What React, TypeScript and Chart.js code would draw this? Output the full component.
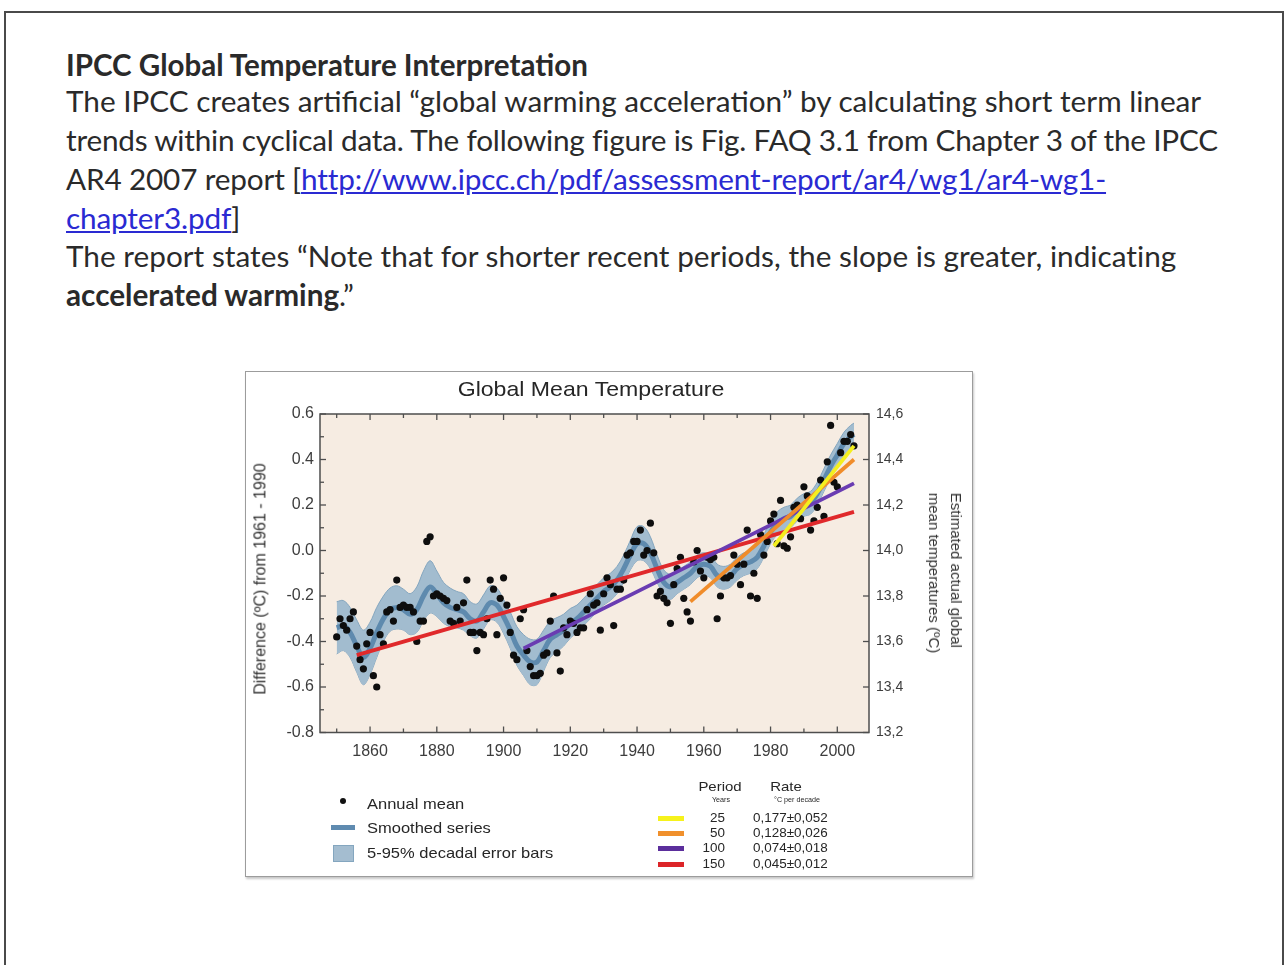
import React, { useEffect, useLayoutEffect, useRef, useState } from 'react';
import { Chart, registerables } from 'chart.js';

Chart.register(...registerables);

// ---------------- data ----------------
const FIRST_YEAR = 1850;
// annual global mean anomalies (°C, vs 1961-1990), 1850..2005
const annualMean = [
  -0.38, -0.30, -0.33, -0.35, -0.30, -0.27, -0.42, -0.48, -0.52, -0.41,
  -0.36, -0.55, -0.60, -0.37, -0.41, -0.27, -0.26, -0.31, -0.13, -0.25,
  -0.24, -0.25, -0.25, -0.27, -0.40, -0.31, -0.31, 0.04, 0.06, -0.20,
  -0.19, -0.20, -0.21, -0.22, -0.31, -0.32, -0.25, -0.31, -0.23, -0.13,
  -0.36, -0.36, -0.44, -0.36, -0.37, -0.30, -0.13, -0.17, -0.37, -0.21,
  -0.12, -0.24, -0.36, -0.46, -0.48, -0.30, -0.26, -0.44, -0.51, -0.55,
  -0.55, -0.54, -0.46, -0.45, -0.31, -0.20, -0.45, -0.53, -0.34, -0.37,
  -0.31, -0.32, -0.36, -0.34, -0.34, -0.26, -0.19, -0.24, -0.23, -0.35,
  -0.19, -0.12, -0.15, -0.33, -0.17, -0.17, -0.13, -0.02, -0.01, 0.04,
  0.04, 0.09, -0.02, 0.00, 0.12, -0.01, -0.20, -0.18, -0.21, -0.23,
  -0.32, -0.15, -0.08, -0.03, -0.21, -0.27, -0.31, -0.05, 0.00, -0.09,
  -0.12, -0.03, -0.04, -0.03, -0.30, -0.20, -0.12, -0.12, -0.11, -0.02,
  -0.06, -0.15, -0.06, 0.09, -0.20, -0.10, -0.21, 0.07, -0.02, 0.04,
  0.13, 0.16, 0.03, 0.22, 0.02, 0.01, 0.06, 0.19, 0.20, 0.14,
  0.28, 0.24, 0.09, 0.13, 0.19, 0.31, 0.15, 0.39, 0.55, 0.30,
  0.28, 0.43, 0.48, 0.48, 0.51, 0.46,
];

const smoothYears = [
  1850, 1852, 1854, 1856, 1858, 1860, 1862, 1864, 1866, 1868,
  1870, 1872, 1874, 1876, 1878, 1880, 1882, 1884, 1886, 1888,
  1890, 1892, 1894, 1896, 1898, 1900, 1902, 1904, 1906, 1908,
  1910, 1912, 1914, 1916, 1918, 1920, 1922, 1924, 1926, 1928,
  1930, 1932, 1934, 1936, 1938, 1940, 1942, 1944, 1946, 1948,
  1950, 1952, 1954, 1956, 1958, 1960, 1962, 1964, 1966, 1968,
  1970, 1972, 1974, 1976, 1978, 1980, 1982, 1984, 1986, 1988,
  1990, 1992, 1994, 1996, 1998, 2000, 2002, 2004, 2005,
];
const smoothValues = [
  -0.34, -0.33, -0.36, -0.42, -0.47, -0.43, -0.36, -0.30, -0.26, -0.25,
  -0.26, -0.28, -0.26, -0.20, -0.16, -0.19, -0.23, -0.25, -0.26, -0.27,
  -0.30, -0.31, -0.27, -0.23, -0.24, -0.29, -0.35, -0.42, -0.46, -0.49,
  -0.49, -0.44, -0.39, -0.37, -0.35, -0.32, -0.30, -0.27, -0.24, -0.21,
  -0.18, -0.16, -0.13, -0.08, -0.02, 0.03, 0.03, -0.01, -0.08, -0.14,
  -0.16, -0.14, -0.12, -0.10, -0.07, -0.06, -0.07, -0.11, -0.12, -0.11,
  -0.08, -0.06, -0.05, -0.03, 0.02, 0.08, 0.12, 0.14, 0.15, 0.18,
  0.20, 0.21, 0.25, 0.31, 0.37, 0.42, 0.47, 0.50, 0.51,
];
// half width of the 5-95% decadal error band
const errorHalfWidth = [
  0.115, 0.11, 0.11, 0.115, 0.12, 0.115, 0.11, 0.10, 0.095, 0.095,
  0.09, 0.09, 0.10, 0.11, 0.115, 0.10, 0.09, 0.085, 0.08, 0.08,
  0.075, 0.075, 0.075, 0.075, 0.075, 0.075, 0.08, 0.085, 0.09, 0.10,
  0.10, 0.09, 0.08, 0.075, 0.07, 0.065, 0.06, 0.06, 0.06, 0.06,
  0.06, 0.06, 0.06, 0.06, 0.065, 0.075, 0.075, 0.07, 0.06, 0.055,
  0.055, 0.05, 0.05, 0.05, 0.05, 0.05, 0.05, 0.05, 0.05, 0.05,
  0.05, 0.05, 0.05, 0.05, 0.05, 0.05, 0.05, 0.05, 0.05, 0.05,
  0.05, 0.05, 0.05, 0.05, 0.05, 0.05, 0.05, 0.05, 0.05,
];

// linear trends (25, 50, 100, 150 years)
const trendPeriods = ['25', '50', '100', '150'];
const trendRates = ['0,177±0,052', '0,128±0,026', '0,074±0,018', '0,045±0,012'];
const trendStartYears = [1981, 1956, 1906, 1856];
const trendEndYears = [2005, 2005, 2005, 2005];
const trendStartValues = [0.02, -0.225, -0.43, -0.46];
const trendEndValues = [0.46, 0.40, 0.295, 0.17];

const xTickYears = [1860, 1880, 1900, 1920, 1940, 1960, 1980, 2000];
const xMinorYears = [1850, 1870, 1890, 1910, 1930, 1950, 1970, 1990];
const yTickValues = [-0.8, -0.6, -0.4, -0.2, 0.0, 0.2, 0.4, 0.6];
const yMinorValues = [-0.7, -0.5, -0.3, -0.1, 0.1, 0.3, 0.5];
const rightTickValues = [13.2, 13.4, 13.6, 13.8, 14.0, 14.2, 14.4, 14.6];
const rightTickLabels = ['13,2', '13,4', '13,6', '13,8', '14,0', '14,2', '14,4', '14,6'];

// ---------------- styles ----------------
const trendColors = ['#f4ef1e', '#f08c2a', '#6a3cb2', '#e0292b'];
const legendSwatchColors = ['#f6f21c', '#f0902c', '#5b2e9c', '#dc2428'];
const PLOT_BG = '#f6ece2';
const FIG_FONT = "'Liberation Sans', Arial, Helvetica, sans-serif";
const BODY_FONT = "Lato, 'Open Sans', sans-serif";
const TEXT_COLOR = '#2a2a2a';
const LINK_COLOR = '#2a2ad2';

const TITLE_TEXT = 'IPCC Global Temperature Interpretation';
const LINE1 = 'The IPCC creates artificial \u201Cglobal warming acceleration\u201D by calculating short term linear';
const LINE2 = 'trends within cyclical data. The following figure is Fig. FAQ 3.1 from Chapter 3 of the IPCC';
const LINE3A = 'AR4 2007 report [';
const LINE3LINK = 'http://www.ipcc.ch/pdf/assessment-report/ar4/wg1/ar4-wg1-';
const LINE4LINK = 'chapter3.pdf';
const LINE5 = 'The report states \u201CNote that for shorter recent periods, the slope is greater, indicating';
const LINE6BOLD = 'accelerated warming';
const LINE6END = '.\u201D';
// target widths of the slide lines (px)
const TITLE_W = 523;
const LINE1_W = 1137;
const LINE2_W = 1154;
const LINE3_W = 1039;
const LINE5_W = 1112;

const framePlugin = {
  id: 'axesFrame',
  beforeDraw(chart: any) {
    const { ctx, chartArea: a } = chart;
    ctx.save();
    ctx.fillStyle = PLOT_BG;
    ctx.fillRect(a.left, a.top, a.right - a.left, a.bottom - a.top);
    ctx.restore();
  },
  afterDraw(chart: any) {
    const { ctx, chartArea: a, scales } = chart;
    ctx.save();
    ctx.strokeStyle = '#4e4e4e';
    ctx.lineWidth = 1.5;
    ctx.strokeRect(a.left, a.top, a.right - a.left, a.bottom - a.top);
    ctx.lineWidth = 1.3;
    const seg = (x1: number, y1: number, x2: number, y2: number) => {
      ctx.beginPath();
      ctx.moveTo(x1, y1);
      ctx.lineTo(x2, y2);
      ctx.stroke();
    };
    xTickYears.forEach((v) => {
      const p = scales.x.getPixelForValue(v);
      seg(p, a.bottom, p, a.bottom - 6);
      seg(p, a.top, p, a.top + 6);
    });
    xMinorYears.forEach((v) => {
      const p = scales.x.getPixelForValue(v);
      seg(p, a.bottom, p, a.bottom - 4);
      seg(p, a.top, p, a.top + 4);
    });
    yTickValues.forEach((v) => {
      const p = scales.y.getPixelForValue(v);
      seg(a.left, p, a.left + 6, p);
    });
    yMinorValues.forEach((v) => {
      const p = scales.y.getPixelForValue(v);
      seg(a.left, p, a.left + 4, p);
    });
    rightTickValues.forEach((v) => {
      const p = scales.y2.getPixelForValue(v);
      seg(a.right, p, a.right - 6, p);
    });
    ctx.restore();
  },
};

function TempChart() {
  const ref = useRef<HTMLCanvasElement>(null);
  useEffect(() => {
    if (!ref.current) return;
    const annualPts = annualMean.map((v, i) => ({ x: FIRST_YEAR + i, y: v }));
    const smoothPts = smoothYears.map((x, i) => ({ x, y: smoothValues[i] }));
    const upperPts = smoothYears.map((x, i) => ({ x, y: smoothValues[i] + errorHalfWidth[i] }));
    const lowerPts = smoothYears.map((x, i) => ({ x, y: smoothValues[i] - errorHalfWidth[i] }));
    const trendSets = trendPeriods.map((p, i) => ({
      type: 'line' as const,
      label: p + ' years',
      data: [
        { x: trendStartYears[i], y: trendStartValues[i] },
        { x: trendEndYears[i], y: trendEndValues[i] },
      ],
      borderColor: trendColors[i],
      borderWidth: 3.8,
      pointRadius: 0,
      order: i,
    }));
    const tickFont = { family: FIG_FONT, size: 16 };
    const chart = new Chart(ref.current, {
      type: 'line',
      data: {
        datasets: [
          ...trendSets,
          {
            type: 'scatter' as const,
            label: 'Annual mean',
            data: annualPts,
            backgroundColor: '#0e0e0e',
            borderWidth: 0,
            pointRadius: 3.6,
            order: 5,
          } as any,
          {
            type: 'line' as const,
            label: 'Smoothed series',
            data: smoothPts,
            borderColor: '#5e8aae',
            borderWidth: 5,
            pointRadius: 0,
            tension: 0.35,
            order: 6,
          },
          {
            type: 'line' as const,
            label: 'upper',
            data: upperPts,
            borderColor: '#84a6bf',
            borderWidth: 1,
            pointRadius: 0,
            tension: 0.35,
            fill: '+1',
            backgroundColor: '#a2bccf',
            order: 7,
          },
          {
            type: 'line' as const,
            label: 'lower',
            data: lowerPts,
            borderColor: '#84a6bf',
            borderWidth: 1,
            pointRadius: 0,
            tension: 0.35,
            order: 8,
          },
        ],
      },
      options: {
        responsive: false,
        animation: false,
        layout: { padding: { top: 42, left: 0, right: 0, bottom: 0 } },
        plugins: { legend: { display: false }, tooltip: { enabled: false }, title: { display: false } },
        scales: {
          x: {
            type: 'linear',
            min: 1845,
            max: 2009.5,
            afterBuildTicks: (s: any) => { s.ticks = xTickYears.map((v) => ({ value: v })); },
            afterFit: (s: any) => { s.height = 143.5; },
            ticks: { font: tickFont, color: '#3d3d3d', padding: 9, autoSkip: false, maxRotation: 0, callback: (v: any) => String(v) },
            grid: { display: false, drawTicks: false },
            border: { display: false },
          },
          y: {
            type: 'linear',
            position: 'left',
            min: -0.8,
            max: 0.6,
            afterBuildTicks: (s: any) => { s.ticks = yTickValues.map((v) => ({ value: v })); },
            afterFit: (s: any) => { s.width = 74; },
            ticks: { font: tickFont, color: '#3d3d3d', padding: 6, callback: (v: any) => Number(v).toFixed(1) },
            grid: { display: false, drawTicks: false },
            border: { display: false },
          },
          y2: {
            type: 'linear',
            position: 'right',
            min: 13.2,
            max: 14.6,
            afterBuildTicks: (s: any) => { s.ticks = rightTickValues.map((v) => ({ value: v })); },
            afterFit: (s: any) => { s.width = 103; },
            ticks: { font: { family: FIG_FONT, size: 14 }, color: '#3d3d3d', padding: 7, callback: (_v: any, i: number) => rightTickLabels[i] },
            grid: { display: false, drawTicks: false },
            border: { display: false },
          },
        },
      } as any,
      plugins: [framePlugin],
    });
    return () => chart.destroy();
  }, []);
  return (
    <canvas
      ref={ref}
      width={726}
      height={504}
      style={{ position: 'absolute', left: 246, top: 372, width: 726, height: 504 }}
    />
  );
}

type FTProps = {
  x: number;
  y: number;
  size: number;
  align?: 'left' | 'center' | 'right';
  sx?: number;
  color?: string;
  children: React.ReactNode;
};
function FigText({ x, y, size, align = 'left', sx = 1.1, color = '#262626', children }: FTProps) {
  const tx = align === 'left' ? '' : align === 'center' ? 'translateX(-50%) ' : 'translateX(-100%) ';
  return (
    <div
      style={{
        position: 'absolute',
        left: x,
        top: y - 0.52 * size,
        fontFamily: FIG_FONT,
        fontSize: size,
        lineHeight: 1,
        whiteSpace: 'nowrap',
        color,
        transform: `${tx}scaleX(${sx})`,
        transformOrigin: align,
      }}
    >
      {children}
    </div>
  );
}

function SlideLine({ y, size, bold, ls = 0, children }: { y: number; size: number; bold?: boolean; ls?: number; children: React.ReactNode }) {
  return (
    <div
      style={{
        position: 'absolute',
        left: 66,
        top: y - 0.54 * size,
        fontFamily: BODY_FONT,
        fontSize: size,
        fontWeight: bold ? 700 : 400,
        lineHeight: 1,
        whiteSpace: 'nowrap',
        color: TEXT_COLOR,
        letterSpacing: ls,
      }}
    >
      {children}
    </div>
  );
}

export default function App() {
  const [fit, setFit] = useState({ title: 26, body: 26, ls2: 0, ls3: 0, ls5: 0 });
  useLayoutEffect(() => {
    const ctx = document.createElement('canvas').getContext('2d');
    if (!ctx) return;
    ctx.font = `700 100px ${BODY_FONT}`;
    const tw = ctx.measureText(TITLE_TEXT).width;
    ctx.font = `400 100px ${BODY_FONT}`;
    const bw = ctx.measureText(LINE1).width;
    if (!(tw > 0 && bw > 0)) return;
    const body = (100 * LINE1_W) / bw;
    ctx.font = `400 ${body}px ${BODY_FONT}`;
    const spacing = (s: string, target: number) => (target - ctx.measureText(s).width) / s.length;
    setFit({
      title: (100 * TITLE_W) / tw,
      body,
      ls2: spacing(LINE2, LINE2_W),
      ls3: spacing(LINE3A + LINE3LINK, LINE3_W),
      ls5: spacing(LINE5, LINE5_W),
    });
  }, []);

  const link = { color: LINK_COLOR, textDecoration: 'underline' };
  const rowY = [818, 833, 848, 864];

  return (
    <div
      style={{
        position: 'absolute',
        left: 0,
        top: 0,
        width: 1287,
        height: 965,
        overflow: 'hidden',
        background: '#ffffff',
      }}
    >
      <div
        style={{
          position: 'absolute',
          left: 4,
          top: 11,
          width: 1276,
          height: 1000,
          border: '2px solid #4a4a4a',
        }}
      />
      <SlideLine y={66} size={fit.title} bold>
        {TITLE_TEXT}
      </SlideLine>
      <SlideLine y={102} size={fit.body}>{LINE1}</SlideLine>
      <SlideLine y={141} size={fit.body} ls={fit.ls2}>{LINE2}</SlideLine>
      <SlideLine y={180} size={fit.body} ls={fit.ls3}>
        {LINE3A}
        <span style={link}>{LINE3LINK}</span>
      </SlideLine>
      <SlideLine y={219} size={fit.body} ls={fit.ls3}>
        <span style={link}>{LINE4LINK}</span>]
      </SlideLine>
      <SlideLine y={257} size={fit.body} ls={fit.ls5}>{LINE5}</SlideLine>
      <SlideLine y={296} size={fit.body}>
        <b>{LINE6BOLD}</b>
        {LINE6END}
      </SlideLine>

      {/* figure frame */}
      <div
        style={{
          position: 'absolute',
          left: 245,
          top: 371,
          width: 726,
          height: 504,
          border: '1px solid #9c9c9c',
          boxShadow: '1px 2px 2px rgba(0,0,0,0.22)',
          background: '#ffffff',
        }}
      />
      <TempChart />

      <FigText x={591} y={389} size={21} align="center">Global Mean Temperature</FigText>

      {/* axis titles */}
      <div
        style={{
          position: 'absolute',
          left: 260,
          top: 579,
          transform: 'translate(-50%,-50%) rotate(-90deg)',
          fontFamily: FIG_FONT,
          fontSize: 16,
          lineHeight: 1.2,
          whiteSpace: 'nowrap',
          color: '#333',
        }}
      >
        Difference (ºC) from 1961 - 1990
      </div>
      <div
        style={{
          position: 'absolute',
          left: 945,
          top: 573,
          transform: 'translate(-50%,-50%) rotate(90deg)',
          fontFamily: FIG_FONT,
          fontSize: 15,
          lineHeight: '22px',
          whiteSpace: 'nowrap',
          color: '#333',
          textAlign: 'left',
        }}
      >
        Estimated actual global
        <br />
        mean temperatures (ºC)
      </div>

      {/* left legend */}
      <div style={{ position: 'absolute', left: 340, top: 798, width: 6, height: 6, borderRadius: 3, background: '#111' }} />
      <FigText x={367} y={804} size={15}>Annual mean</FigText>
      <div style={{ position: 'absolute', left: 331, top: 825, width: 24, height: 5, background: '#5f8bb0' }} />
      <FigText x={367} y={828} size={15}>Smoothed series</FigText>
      <div
        style={{
          position: 'absolute',
          left: 333,
          top: 845,
          width: 19,
          height: 15,
          background: '#a4bdd0',
          border: '1px solid #84a6bf',
        }}
      />
      <FigText x={367} y={853} size={15}>5-95% decadal error bars</FigText>

      {/* right legend */}
      <FigText x={720} y={787} size={13} align="center" sx={1.15}>Period</FigText>
      <FigText x={786} y={787} size={13} align="center" sx={1.15}>Rate</FigText>
      <FigText x={721} y={800} size={6.5} align="center" sx={1.1}>Years</FigText>
      <FigText x={797} y={800} size={6.5} align="center" sx={1.1}>°C  per decade</FigText>
      {trendPeriods.map((p, i) => (
        <React.Fragment key={p}>
          <div
            style={{
              position: 'absolute',
              left: 658,
              top: rowY[i] - 2,
              width: 26,
              height: 4.5,
              background: legendSwatchColors[i],
            }}
          />
          <FigText x={725} y={rowY[i]} size={12} align="right" sx={1.12}>{p}</FigText>
          <FigText x={753} y={rowY[i]} size={12} sx={1.12}>{trendRates[i]}</FigText>
        </React.Fragment>
      ))}
    </div>
  );
}
